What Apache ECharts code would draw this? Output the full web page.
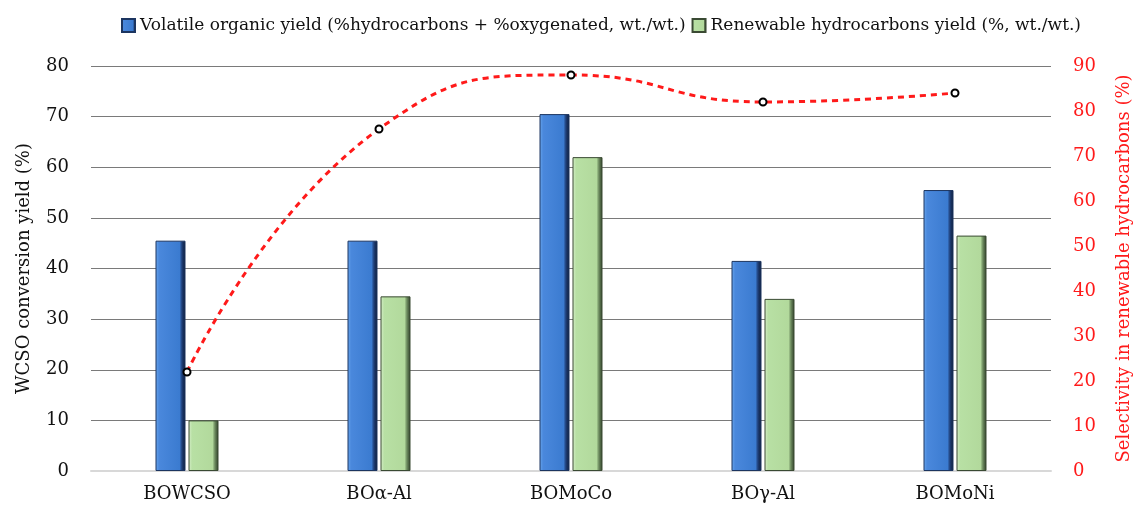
<!DOCTYPE html>
<html><head><meta charset="utf-8">
<script src="https://cdn.jsdelivr.net/npm/echarts@6/dist/echarts.min.js"></script>
<style>html,body{margin:0;padding:0;background:#fff}#c{width:1137px;height:512px}</style>
</head><body><div id="c"></div>
<script>
const categories = ['BOWCSO', 'BO\u03b1-Al', 'BOMoCo', 'BO\u03b3-Al', 'BOMoNi'];
const volatileYield = [45.5, 45.5, 70.5, 41.5, 55.5];
const renewableYield = [10, 34.5, 62, 34, 46.5];
const selectivity = [22, 76, 88, 82, 84];
const leftTicks = [0, 80, 10];
const rightTicks = [0, 90, 10];

const font = '"DejaVu Serif", "Liberation Serif", serif';
const blueGrad = new echarts.graphic.LinearGradient(0, 0, 1, 0, [
  {offset: 0, color: '#6aa8ee'}, {offset: 0.12, color: '#4a88dc'},
  {offset: 0.8, color: '#3b7bd0'}, {offset: 0.88, color: '#1f3f78'}, {offset: 1, color: '#0c1a35'}]);
const greenGrad = new echarts.graphic.LinearGradient(0, 0, 1, 0, [
  {offset: 0, color: '#d8efcc'}, {offset: 0.12, color: '#b8e0a4'},
  {offset: 0.8, color: '#b2d99c'}, {offset: 0.88, color: '#6c8a5e'}, {offset: 1, color: '#2e3d28'}]);

const chart = echarts.init(document.getElementById('c'));
chart.setOption({
  animation: false,
  textStyle: {fontFamily: font},
  legend: {
    top: 12, left: 116, itemWidth: 13, itemHeight: 13, itemGap: 6,
    textStyle: {fontFamily: font, fontSize: 17, color: '#111'},
    data: [
      {name: 'Volatile organic yield (%hydrocarbons + %oxygenated, wt./wt.)', icon: 'rect', itemStyle: {color: blueGrad}},
      {name: 'Renewable hydrocarbons yield (%, wt./wt.)', icon: 'rect', itemStyle: {color: greenGrad}}
    ]
  },
  grid: {left: 91, right: 86, top: 66, bottom: 41, containLabel: false, outerBoundsMode: 'none'},
  xAxis: {
    type: 'category', data: categories,
    axisLine: {lineStyle: {color: '#d8d8d8', width: 2}},
    axisTick: {show: false},
    axisLabel: {fontFamily: font, fontSize: 18, color: '#111', margin: 14}
  },
  yAxis: [{
    type: 'value', min: leftTicks[0], max: leftTicks[1], interval: leftTicks[2],
    name: 'WCSO conversion yield (%)', nameLocation: 'middle', nameGap: 58, nameRotate: 90,
    nameTextStyle: {fontFamily: font, fontSize: 18, color: '#111'},
    axisLine: {show: false}, axisTick: {show: false},
    axisLabel: {fontFamily: font, fontSize: 18, color: '#111', margin: 22},
    splitLine: {lineStyle: {color: '#7a7a7a', width: 1.2}}
  }, {
    type: 'value', min: rightTicks[0], max: rightTicks[1], interval: rightTicks[2],
    name: 'Selectivity in renewable hydrocarbons (%)', nameLocation: 'middle', nameGap: 64, nameRotate: 90,
    nameTextStyle: {fontFamily: font, fontSize: 18, color: '#ff1a1a'},
    axisLine: {show: false}, axisTick: {show: false},
    axisLabel: {fontFamily: font, fontSize: 18, color: '#ff1a1a', margin: 22},
    splitLine: {show: false}
  }],
  series: [{
    name: 'Volatile organic yield (%hydrocarbons + %oxygenated, wt./wt.)',
    type: 'bar', data: volatileYield, barWidth: 30, barGap: '10%',
    itemStyle: {color: blueGrad, borderColor: '#1c3560', borderWidth: 1}
  }, {
    name: 'Renewable hydrocarbons yield (%, wt./wt.)',
    type: 'bar', data: renewableYield, barWidth: 30,
    itemStyle: {color: greenGrad, borderColor: '#3a4a33', borderWidth: 1}
  }, {
    name: 'Selectivity', type: 'line', yAxisIndex: 1, data: selectivity, smooth: 0.5,
    symbol: 'circle', symbolSize: 7, z: 5,
    lineStyle: {color: '#ff1a1a', width: 3, type: [6, 5]},
    itemStyle: {color: '#ffffff', borderColor: '#000', borderWidth: 2}
  }]
});
</script></body></html>
